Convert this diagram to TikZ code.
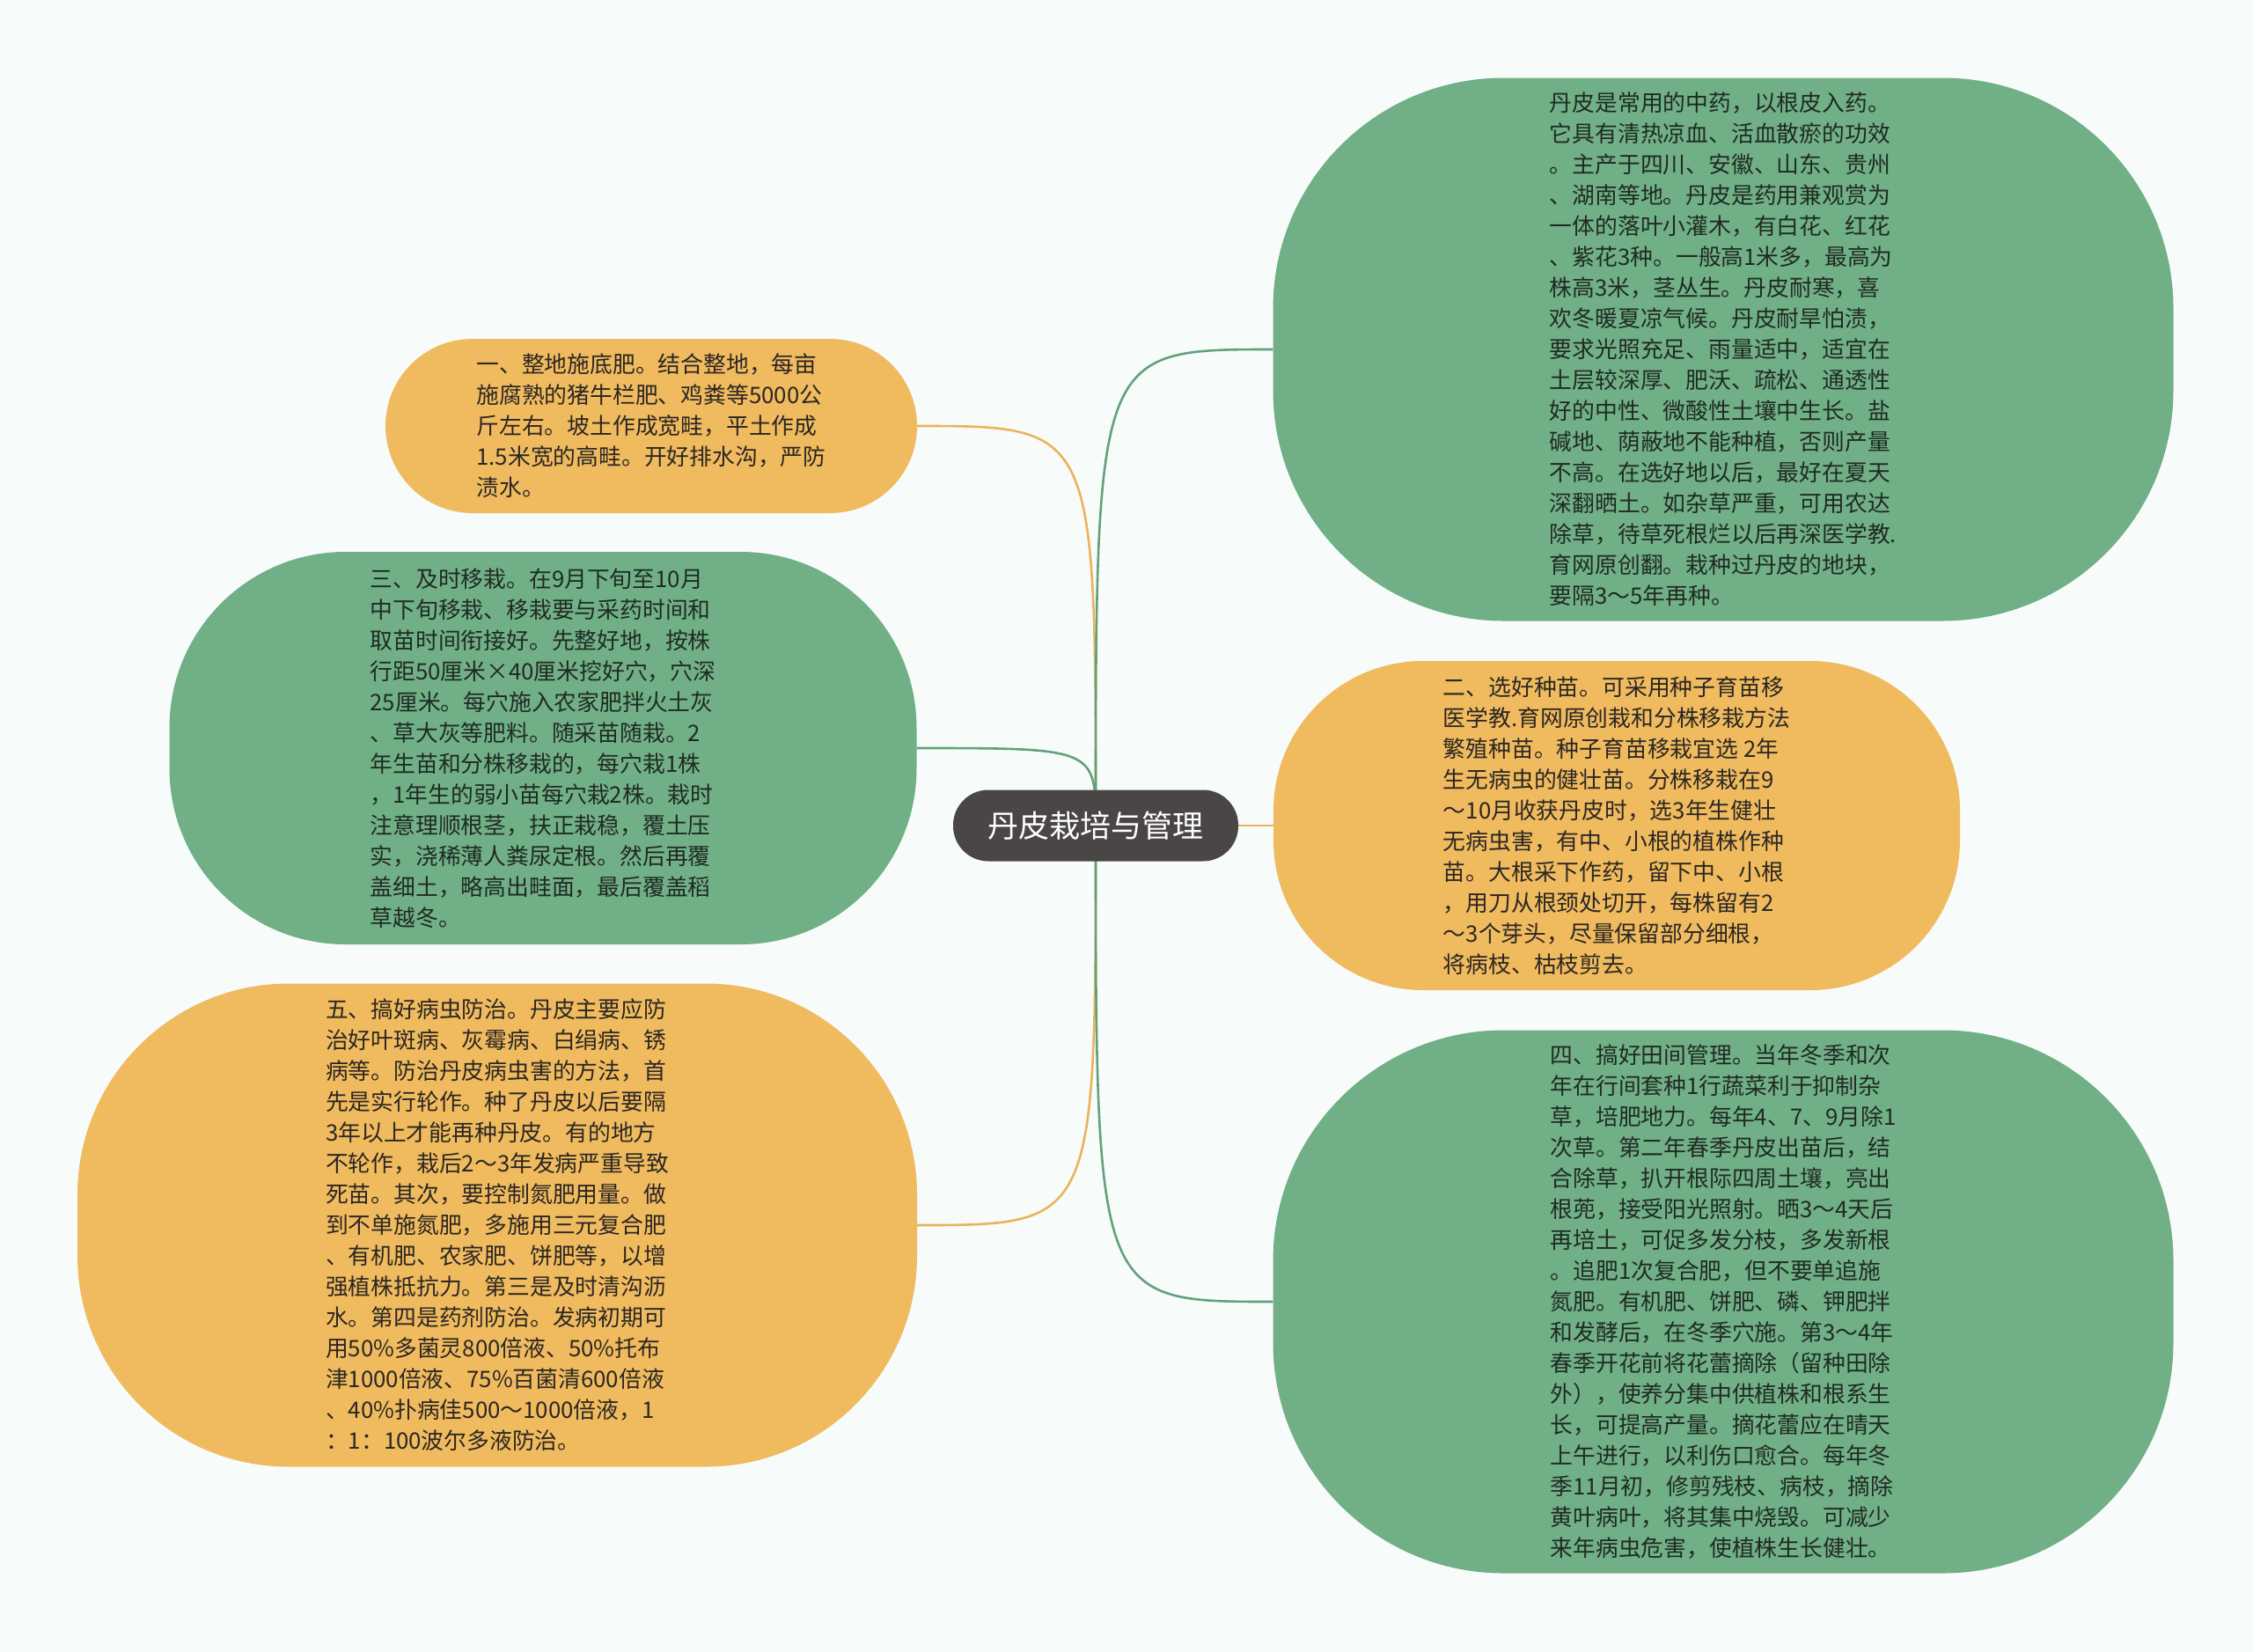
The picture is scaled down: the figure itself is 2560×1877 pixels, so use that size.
\documentclass[tikz,border=0pt]{standalone}
\usepackage{fontspec}
\setmainfont{Noto Sans CJK SC}
\pgfdeclarelayer{bgl}
\pgfdeclarelayer{lines}
\pgfsetlayers{bgl,lines,main}
\definecolor{bgc}{HTML}{F7FCFB}
\definecolor{ofill}{HTML}{F0BA5F}
\definecolor{gfill}{HTML}{71AF86}
\definecolor{rfill}{HTML}{4B4646}
\definecolor{oln}{HTML}{EBB35C}
\definecolor{gln}{HTML}{62A27B}
\definecolor{otext}{HTML}{2B2723}
\definecolor{gtext}{HTML}{1F2B23}
\tikzset{
  leafbox/.style={rectangle, inner sep=0pt, align=left,
    font=\fontsize{25.8}{35}\selectfont},
  oleaf/.style={leafbox, fill=ofill, text=otext},
  gleaf/.style={leafbox, fill=gfill, text=gtext},
  rootbox/.style={rectangle, inner sep=0pt, fill=rfill, text=white,
    minimum width=324pt, minimum height=81pt, rounded corners=40pt,
    font=\fontsize{35}{40}\selectfont},
  oline/.style={draw=oln, line width=2.6pt},
  gline/.style={draw=gln, line width=2.6pt}
}
\begin{document}
\begin{tikzpicture}[x=1pt,y=-1pt]
\begin{pgfonlayer}{bgl}
\fill[bgc] (0,0) rectangle (2560,1877);
\end{pgfonlayer}
\useasboundingbox (0,0) rectangle (2560,1877);

\node[rootbox] (c) at (1245,938) {丹皮栽培与管理};

\node[oleaf, minimum width=604pt, minimum height=198pt, rounded corners=99pt] (n1) at (740,484) {一、整地施底肥。结合整地，每亩\\
施腐熟的猪牛栏肥、鸡粪等5000公\\
斤左右。坡土作成宽畦，平土作成\\
1.5米宽的高畦。开好排水沟，严防\\
渍水。};

\node[gleaf, minimum width=849pt, minimum height=446pt, rounded corners=200pt] (n3) at (617,850) {三、及时移栽。在9月下旬至10月\\
中下旬移栽、移栽要与采药时间和\\
取苗时间衔接好。先整好地，按株\\
行距50厘米×40厘米挖好穴，穴深\\
25厘米。每穴施入农家肥拌火土灰\\
、草大灰等肥料。随采苗随栽。2\\
年生苗和分株移栽的，每穴栽1株\\
，1年生的弱小苗每穴栽2株。栽时\\
注意理顺根茎，扶正栽稳，覆土压\\
实，浇稀薄人粪尿定根。然后再覆\\
盖细土，略高出畦面，最后覆盖稻\\
草越冬。};

\node[oleaf, minimum width=954pt, minimum height=549pt, rounded corners=240pt] (n5) at (565,1392) {五、搞好病虫防治。丹皮主要应防\\
治好叶斑病、灰霉病、白绢病、锈\\
病等。防治丹皮病虫害的方法，首\\
先是实行轮作。种了丹皮以后要隔\\
3年以上才能再种丹皮。有的地方\\
不轮作，栽后2～3年发病严重导致\\
死苗。其次，要控制氮肥用量。做\\
到不单施氮肥，多施用三元复合肥\\
、有机肥、农家肥、饼肥等，以增\\
强植株抵抗力。第三是及时清沟沥\\
水。第四是药剂防治。发病初期可\\
用50\%多菌灵800倍液、50\%托布\\
津1000倍液、75\%百菌清600倍液\\
、40\%扑病佳500～1000倍液，1\\
：1：100波尔多液防治。};

\node[gleaf, minimum width=1023pt, minimum height=617pt, rounded corners=262pt] (n0) at (1958,397) {丹皮是常用的中药，以根皮入药。\\
它具有清热凉血、活血散瘀的功效\\
。主产于四川、安徽、山东、贵州\\
、湖南等地。丹皮是药用兼观赏为\\
一体的落叶小灌木，有白花、红花\\
、紫花3种。一般高1米多，最高为\\
株高3米，茎丛生。丹皮耐寒，喜\\
欢冬暖夏凉气候。丹皮耐旱怕渍，\\
要求光照充足、雨量适中，适宜在\\
土层较深厚、肥沃、疏松、通透性\\
好的中性、微酸性土壤中生长。盐\\
碱地、荫蔽地不能种植，否则产量\\
不高。在选好地以后，最好在夏天\\
深翻晒土。如杂草严重，可用农达\\
除草，待草死根烂以后再深医学教.\\
育网原创翻。栽种过丹皮的地块，\\
要隔3～5年再种。};

\node[oleaf, minimum width=780pt, minimum height=374pt, rounded corners=170pt] (n2) at (1837,938) {二、选好种苗。可采用种子育苗移\\
医学教.育网原创栽和分株移栽方法\\
繁殖种苗。种子育苗移栽宜选 2年\\
生无病虫的健壮苗。分株移栽在9\\
～10月收获丹皮时，选3年生健壮\\
无病虫害，有中、小根的植株作种\\
苗。大根采下作药，留下中、小根\\
，用刀从根颈处切开，每株留有2\\
～3个芽头，尽量保留部分细根，\\
将病枝、枯枝剪去。};

\node[gleaf, minimum width=1023pt, minimum height=617pt, rounded corners=262pt] (n4) at (1958,1479) {四、搞好田间管理。当年冬季和次\\
年在行间套种1行蔬菜利于抑制杂\\
草，培肥地力。每年4、7、9月除1\\
次草。第二年春季丹皮出苗后，结\\
合除草，扒开根际四周土壤，亮出\\
根蔸，接受阳光照射。晒3～4天后\\
再培土，可促多发分枝，多发新根\\
。追肥1次复合肥，但不要单追施\\
氮肥。有机肥、饼肥、磷、钾肥拌\\
和发酵后，在冬季穴施。第3～4年\\
春季开花前将花蕾摘除（留种田除\\
外），使养分集中供植株和根系生\\
长，可提高产量。摘花蕾应在晴天\\
上午进行，以利伤口愈合。每年冬\\
季11月初，修剪残枝、病枝，摘除\\
黄叶病叶，将其集中烧毁。可减少\\
来年病虫危害，使植株生长健壮。};

\begin{pgfonlayer}{lines}
\draw[oline] (c.center) .. controls (c.center |- n1.east) .. (n1.east);
\draw[gline] (c.center) .. controls (c.center |- n3.east) .. (n3.east);
\draw[oline] (c.center) .. controls (c.center |- n5.east) .. (n5.east);
\draw[gline] (c.center) .. controls (c.center |- n0.west) .. (n0.west);
\draw[oline] (c.center) -- (n2.west);
\draw[gline] (c.center) .. controls (c.center |- n4.west) .. (n4.west);
\end{pgfonlayer}
\end{tikzpicture}
\end{document}
